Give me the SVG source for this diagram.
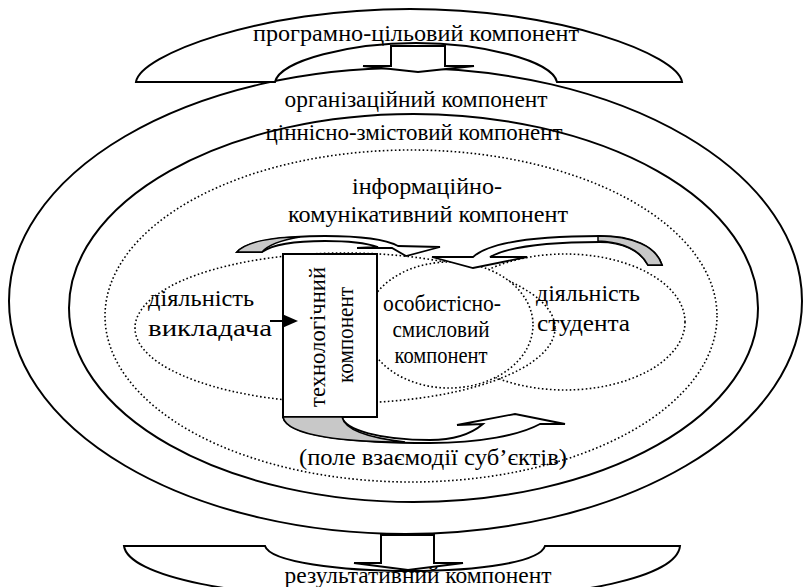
<svg xmlns="http://www.w3.org/2000/svg" width="804" height="587" viewBox="0 0 804 587">
<style>
text{font-family:"Liberation Serif","Times New Roman",serif;font-size:24px;fill:#000}
.c{text-anchor:middle}
.solid{fill:none;stroke:#000;stroke-width:2}
.dot{fill:none;stroke:#000;stroke-width:1.6;stroke-dasharray:1.6 2.4}
.dotw{fill:#fff;stroke:#000;stroke-width:1.6;stroke-dasharray:1.6 2.4}
.shape{fill:#fff;stroke:#000;stroke-width:2;stroke-linejoin:miter}
.gray{fill:#c8c8c8;stroke:#000;stroke-width:1.5}
.band{fill:#fff;stroke:#000;stroke-width:1.8;stroke-linejoin:miter}
</style>
<rect width="804" height="587" fill="#fff"/>

<g id="organizational">
<ellipse class="solid" cx="405.5" cy="301" rx="396.5" ry="233"/>
<text class="c" x="416" y="107" textLength="263" lengthAdjust="spacingAndGlyphs">організаційний компонент</text>
</g>

<g id="value-content">
<ellipse class="solid" cx="413.5" cy="308" rx="344.5" ry="194"/>
<text class="c" x="414" y="140" textLength="297" lengthAdjust="spacingAndGlyphs">ціннісно-змістовий компонент</text>
</g>

<g id="info-communicative">
<ellipse class="dot" cx="411" cy="316" rx="306" ry="166"/>
<text class="c" x="427" y="194" textLength="150" lengthAdjust="spacingAndGlyphs">інформаційно-</text>
<text class="c" x="428" y="222" textLength="280" lengthAdjust="spacingAndGlyphs">комунікативний компонент</text>
</g>

<g id="teacher">
<ellipse class="dot" cx="345" cy="328" rx="210" ry="75"/>
<text x="148" y="306" textLength="106" lengthAdjust="spacingAndGlyphs">діяльність</text>
<text x="148" y="336" textLength="124" lengthAdjust="spacingAndGlyphs">викладача</text>
</g>

<g id="student">
<ellipse class="dot" cx="565" cy="322" rx="120" ry="68"/>
<text x="536" y="301" textLength="104" lengthAdjust="spacingAndGlyphs">діяльність</text>
<text x="537" y="331" textLength="93" lengthAdjust="spacingAndGlyphs">студента</text>
</g>

<g id="personal-meaning">
<ellipse class="dotw" cx="449" cy="325" rx="84" ry="63"/>
<text class="c" x="442" y="311" textLength="118" lengthAdjust="spacingAndGlyphs">особистісно-</text>
<text class="c" x="441" y="337" textLength="97" lengthAdjust="spacingAndGlyphs">смисловий</text>
<text class="c" x="441" y="363" textLength="93" lengthAdjust="spacingAndGlyphs">компонент</text>
</g>

<g id="technological">
<rect x="283" y="254" width="94" height="163" fill="#fff" stroke="#000" stroke-width="2"/>
<text class="c" transform="translate(325,337) rotate(-90)" textLength="140" lengthAdjust="spacingAndGlyphs">технологічний</text>
<text class="c" transform="translate(353,335) rotate(-90)" textLength="96" lengthAdjust="spacingAndGlyphs">компонент</text>
</g>

<g id="program-target">
<path class="shape" d="M136,82 C140,55 260,9 410,9 C560,9 678,55 682,82 L557,82 C552,60 480,43 416,43 C352,43 280,60 275,82 Z"/>
<path class="shape" d="M391,46 L445,46 L445,66 L474,66 L418,72 L363,66 L391,66 Z"/>
<text class="c" x="416" y="41" textLength="326" lengthAdjust="spacingAndGlyphs">програмно-цільовий компонент</text>
</g>

<g id="resulting">
<path class="shape" d="M124,546 C128,575 230,600 410,600 C590,600 677,575 680,546 L545,546 C540,562 480,571 410,571 C340,571 270,562 265,546 Z"/>
<path class="shape" d="M381,535 L434,535 L434,563 L463,563 L408,570 L354,563 L381,563 Z"/>
<text class="c" x="418" y="583" textLength="267" lengthAdjust="spacingAndGlyphs">результативний компонент</text>
</g>

<g id="connectors">
<path class="band" d="M237,252 C247,241 285,236 325,236 C360,236 385,239 398,246 L440,247 L406,256 L392,248 L357,248 L378,247 C366,243 350,241 325,241 C295,241 272,245 262,252 Z"/>
<path class="gray" d="M237,252 C247,241 275,237 300,237 C282,240 268,245 262,252 Z"/>
<path class="band" d="M432,257 L473,257 C490,242 540,236 600,236 C632,236 656,246 662,265 L648,265 C640,250 622,242 600,242 C550,242 510,246 490,257 L527,257 L473,268 Z"/>
<path class="gray" d="M598,236 C632,236 656,246 662,265 L648,265 C640,250 622,242 598,241 Z"/>
<path class="band" d="M283,417 C287,437 360,443 430,443 C480,443 520,435 540,424 L565,424 L515,414 L457,425 L483,424 C470,435 450,440 430,440 C380,440 345,430 342,417 Z"/>
<path class="gray" d="M283,417 C287,437 350,442 405,442 C370,438 345,430 342,417 Z"/>
<line x1="270" y1="321" x2="284" y2="321" stroke="#000" stroke-width="2"/>
<polygon points="282,314 298,321 282,328" fill="#000"/>
</g>

<g id="interaction-field">
<text class="c" x="433" y="465" textLength="268" lengthAdjust="spacingAndGlyphs">(поле взаємодії суб’єктів)</text>
</g>
</svg>
